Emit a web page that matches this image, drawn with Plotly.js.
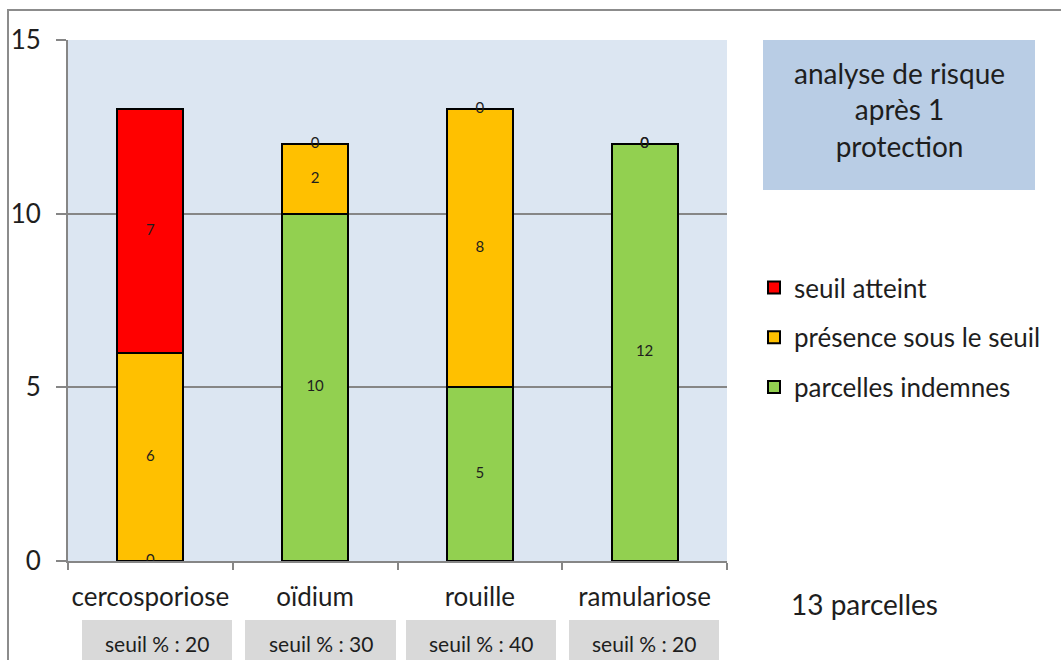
<!DOCTYPE html>
<html>
<head>
<meta charset="utf-8">
<script src="https://cdn.plot.ly/plotly-3.0.1.min.js"></script>
<style>html,body{margin:0;padding:0;background:#fff;}</style>
</head>
<body>
<div id="chart" style="width:1061px;height:660px;"></div>
<script>
// ---- data ----
const categories = ["cercosporiose", "oïdium", "rouille", "ramulariose"];
const thresholds = ["seuil % : 20", "seuil % : 30", "seuil % : 40", "seuil % : 20"];
const seriesNames = ["parcelles indemnes", "présence sous le seuil", "seuil atteint"];
const indemnes = [0, 10, 5, 12];
const sousSeuil = [6, 2, 8, 0];
const atteint = [7, 0, 0, 0];
const yTicks = [0, 5, 10, 15];
const nbParcelles = "13 parcelles";
const boxTitle = "analyse de risque<br>après 1<br>protection";

const FONT = "Lato, 'Open Sans', sans-serif";
const TXT = "#1E1E1E";
const colors = ["#92D050", "#FFC000", "#FF0000"];
const series = [indemnes, sousSeuil, atteint];
const groups = ["g3", "g2", "g1"];
const ranks = [3, 2, 1];

const traces = [];
series.forEach((vals, k) => {
  traces.push({
    type: "bar", x: categories, y: vals, name: seriesNames[k],
    legendgroup: groups[k], legendrank: ranks[k],
    marker: {color: colors[k], line: {color: "#000", width: 2}},
    hoverinfo: "y+name"
  });
});
// data labels at the middle of each stacked segment
const cum = categories.map(() => 0);
series.forEach((vals, k) => {
  const ys = vals.map((v, i) => { const m = cum[i] + v / 2; cum[i] += v; return m; });
  traces.push({
    type: "scatter", mode: "text", x: categories, y: ys,
    text: vals.map(String), showlegend: false, hoverinfo: "skip",
    textfont: {family: FONT, size: 15, color: TXT}
  });
});

// pixel helpers for decorations (plot area: x 68..727, y 40..561)
const L = 68, R = 727, T = 40, B = 561;
const px = x => (x - L) / (R - L);
const py = y => (B - y) / (B - T);

const boxX = [[82, 232], [245, 396], [406, 556], [569, 719]];
const shapes = [
  {type: "rect", xref: "paper", yref: "paper", x0: px(763), x1: px(1035), y0: py(40), y1: py(190),
   fillcolor: "#B9CDE5", line: {width: 0}, layer: "below"},
  {type: "path", xref: "paper", yref: "paper",
   path: `M ${px(8)} ${py(662)} L ${px(8)} ${py(10)} L ${px(1063)} ${py(10)}`,
   line: {color: "#8C8C8C", width: 2}}
];
const annotations = [
  {xref: "paper", yref: "paper", x: px(899), y: py(109), text: boxTitle, showarrow: false,
   font: {family: FONT, size: 28, color: TXT}, align: "center", xanchor: "center", yanchor: "middle"},
  {xref: "paper", yref: "paper", x: px(789), y: py(604), text: nbParcelles, showarrow: false,
   font: {family: FONT, size: 28, color: TXT}, xanchor: "left", yanchor: "middle"}
];
thresholds.forEach((t, i) => {
  shapes.push({type: "rect", xref: "paper", yref: "paper", x0: px(boxX[i][0]), x1: px(boxX[i][1]),
    y0: py(620), y1: py(662), fillcolor: "#D9D9D9", line: {width: 0}});
  annotations.push({xref: "paper", yref: "paper", x: px((boxX[i][0] + boxX[i][1]) / 2), y: py(643),
    text: t, showarrow: false, font: {family: FONT, size: 21, color: TXT},
    xanchor: "center", yanchor: "middle"});
});

const layout = {
  width: 1061, height: 660,
  margin: {l: L, r: 1061 - R, t: T, b: 660 - B, pad: 0},
  paper_bgcolor: "#fff", plot_bgcolor: "#DCE6F2",
  barmode: "stack", bargap: 0.6,
  font: {family: FONT, color: TXT},
  showlegend: true,
  legend: {x: px(754), y: py(264), xanchor: "left", yanchor: "top",
    traceorder: "grouped", tracegroupgap: 13,
    font: {family: FONT, size: 26, color: TXT}, bgcolor: "rgba(0,0,0,0)"},
  xaxis: {type: "category", tickson: "boundaries", ticks: "outside", ticklen: 7,
    tickcolor: "#868686", tickwidth: 2, showgrid: false, showline: true, tickangle: 0,
    linecolor: "#868686", linewidth: 2, tickfont: {family: FONT, size: 26, color: TXT},
    ticklabelstandoff: 12, fixedrange: true},
  yaxis: {range: [0, 15], tickvals: yTicks, ticktext: yTicks.map(String), ticks: "outside",
    ticklen: 10, tickcolor: "#868686", tickwidth: 2, showgrid: true, gridcolor: "#868686",
    gridwidth: 2, showline: true, linecolor: "#868686", linewidth: 2, zeroline: false,
    tickfont: {family: FONT, size: 26, color: TXT}, ticklabelstandoff: 10, fixedrange: true},
  shapes: shapes, annotations: annotations
};
Plotly.newPlot("chart", traces, layout, {displayModeBar: false, staticPlot: true});
</script>
</body>
</html>
